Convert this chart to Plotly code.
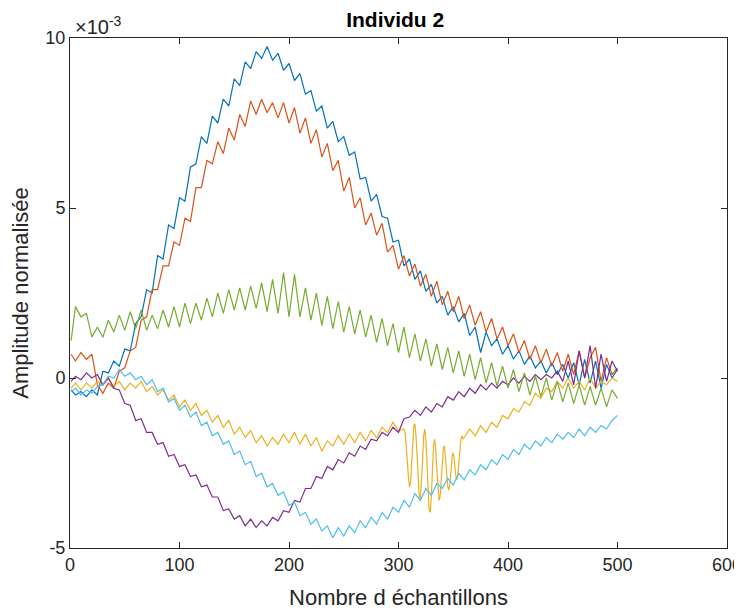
import plotly.graph_objects as go

# Sample indices (common grid, step 5)
X5 = [1, 5, 10, 15, 20, 25, 30, 35, 40, 45, 50, 55, 60, 65, 70, 75, 80, 85, 90, 95,
      100, 105, 110, 115, 120, 125, 130, 135, 140, 145, 150, 155, 160, 165, 170, 175, 180, 185, 190, 195,
      200, 205, 210, 215, 220, 225, 230, 235, 240, 245, 250, 255, 260, 265, 270, 275, 280, 285, 290, 295,
      300, 305, 310, 315, 320, 325, 330, 335, 340, 345, 350, 355, 360, 365, 370, 375, 380, 385, 390, 395,
      400, 405, 410, 415, 420, 425, 430, 435, 440, 445, 450, 455, 460, 465, 470, 475, 480, 485, 490, 495, 500]

# Values in units of 1e-3
blue = [-0.35, -0.5, -0.4, -0.55, -0.35, -0.5, 0.2, 0.15, 0.5, 0.35, 0.85, 0.8, 1.6, 1.8, 2.6, 2.5, 3.6, 3.5, 4.5, 4.4,
        5.3, 5.2, 6.2, 6.3, 7.1, 6.9, 7.7, 7.5, 8.2, 8.0, 8.8, 8.6, 9.3, 9.1, 9.6, 9.4, 9.75, 9.35, 9.55, 9.05,
        9.25, 8.75, 8.95, 8.35, 8.45, 7.85, 8.0, 7.35, 7.55, 6.95, 7.1, 6.55, 6.65, 5.85, 5.9, 5.2, 5.4, 4.75, 4.7, 4.0,
        4.05, 3.3, 3.5, 2.9, 3.15, 2.55, 2.75, 2.2, 2.4, 1.85, 2.1, 1.65, 1.9, 1.25, 1.5, 0.75, 1.35, 0.95, 1.15, 0.7,
        0.95, 0.55, 0.8, 0.4, 0.65, 0.3, 0.5, 0.15, 0.45, 0.1, 0.4, 0.0, 0.45, -0.2, 0.55, -0.15, 0.5, -0.3, 0.4, 0.0, 0.25]

orange = [0.7, 0.5, 0.75, 0.55, 0.7, -0.2, -0.45, -0.15, -0.3, 0.2, 0.3, 0.8, 0.9, 1.7, 1.8, 2.6, 2.6, 3.3, 3.3, 4.0,
          3.9, 4.7, 4.6, 5.6, 5.6, 6.4, 6.3, 6.95, 6.6, 7.35, 7.0, 7.75, 7.4, 8.15, 7.75, 8.2, 7.8, 8.1, 7.65, 8.1,
          7.5, 7.95, 7.2, 7.65, 6.9, 7.3, 6.5, 6.9, 6.1, 6.4, 5.5, 5.9, 5.0, 5.3, 4.5, 4.85, 4.2, 4.55, 3.7, 3.9,
          3.2, 3.6, 3.0, 3.35, 2.7, 3.05, 2.4, 2.85, 2.15, 2.55, 1.95, 2.4, 1.75, 2.15, 1.55, 1.95, 1.35, 1.75, 1.15, 1.5,
          0.95, 1.3, 0.75, 1.1, 0.55, 0.95, 0.45, 0.85, 0.35, 0.75, 0.2, 0.7, 0.1, 0.8, 0.0, 0.6, 0.9, -0.1, 0.6, 0.1, 0.3]

purple = [-0.1, 0.05, -0.05, 0.15, 0.0, 0.1, -0.2, 0.0, -0.3, -0.35, -0.75, -0.8, -1.25, -1.2, -1.6, -1.6, -1.95, -1.9, -2.3, -2.25,
          -2.6, -2.55, -2.9, -2.85, -3.2, -3.15, -3.5, -3.5, -3.9, -3.85, -4.15, -4.05, -4.35, -4.15, -4.4, -4.2, -4.35, -4.1, -4.2, -3.9,
          -3.95, -3.6, -3.65, -3.25, -3.25, -2.9, -2.95, -2.6, -2.7, -2.4, -2.5, -2.2, -2.3, -2.0, -2.1, -1.8, -1.85, -1.6, -1.7, -1.45,
          -1.6, -1.2, -1.15, -0.95, -1.1, -0.85, -1.0, -0.75, -0.85, -0.55, -0.65, -0.4, -0.55, -0.3, -0.45, -0.2, -0.35, -0.15, -0.3, -0.1,
          -0.2, 0.0, -0.15, 0.05, -0.1, 0.1, -0.05, 0.1, 0.0, 0.2, -0.1, 0.5, -0.2, 0.8, 0.0, 0.95, -0.3, 0.7, -0.1, 0.5, 0.2]

green = [1.1, 2.1, 1.8, 1.9, 1.2, 1.5, 1.2, 1.7, 1.35, 1.85, 1.4, 1.95, 1.45, 2.0, 1.4, 1.85, 1.45, 2.0, 1.5, 2.1,
         1.5, 2.2, 1.6, 2.2, 1.7, 2.35, 1.8, 2.5, 1.9, 2.6, 2.0, 2.65, 2.0, 2.7, 2.05, 2.8, 1.95, 2.9, 1.9, 3.1,
         1.8, 3.05, 1.8, 2.65, 1.7, 2.5, 1.55, 2.4, 1.45, 2.25, 1.35, 2.1, 1.3, 2.0, 1.2, 1.85, 1.05, 1.75, 0.95, 1.6,
         0.75, 1.5, 0.6, 1.3, 0.5, 1.15, 0.35, 1.0, 0.25, 0.9, 0.15, 0.8, 0.05, 0.7, -0.05, 0.6, -0.15, 0.45, -0.25, 0.35,
         -0.3, 0.25, -0.4, 0.15, -0.5, 0.05, -0.55, 0.0, -0.65, -0.1, -0.7, -0.15, -0.75, -0.2, -0.8, -0.25, -0.8, -0.3, -0.85, -0.35, -0.6]

lightblue = [-0.4, -0.3, -0.5, -0.35, -0.45, -0.25, -0.2, 0.05, 0.0, 0.25, 0.05, 0.15, -0.05, 0.05, -0.2, -0.05, -0.4, -0.3, -0.7, -0.6,
             -0.95, -0.8, -1.15, -1.0, -1.4, -1.3, -1.7, -1.6, -1.95, -1.85, -2.25, -2.15, -2.55, -2.45, -2.9, -2.8, -3.2, -3.1, -3.45, -3.35,
             -3.75, -3.65, -4.05, -3.95, -4.3, -4.15, -4.5, -4.35, -4.7, -4.4, -4.65, -4.35, -4.55, -4.2, -4.4, -4.1, -4.3, -3.95, -4.15, -3.8,
             -3.95, -3.6, -3.8, -3.4, -3.6, -3.25, -3.45, -3.1, -3.25, -2.95, -3.15, -2.8, -3.0, -2.7, -2.85, -2.55, -2.7, -2.4, -2.55, -2.25,
             -2.4, -2.1, -2.25, -1.95, -2.1, -1.85, -2.0, -1.75, -1.9, -1.65, -1.8, -1.6, -1.75, -1.5, -1.7, -1.45, -1.6, -1.4, -1.5, -1.25, -1.1]

# Yellow has a fast oscillation around samples 305-360, read at finer resolution
yellow_x = [1, 5, 10, 15, 20, 25, 30, 35, 40, 45, 50, 55, 60, 65, 70, 75, 80, 85, 90, 95,
            100, 105, 110, 115, 120, 125, 130, 135, 140, 145, 150, 155, 160, 165, 170, 175, 180, 185, 190, 195,
            200, 205, 210, 215, 220, 225, 230, 235, 240, 245, 250, 255, 260, 265, 270, 275, 280, 285, 290, 295,
            300, 305, 306, 307, 308, 309, 310, 311, 312, 313, 314, 315, 316, 317, 318, 319, 320, 321, 322, 323,
            324, 325, 326, 327, 328, 329, 330, 331, 332, 333, 334, 335, 336, 337, 338, 339, 340, 341, 342, 343,
            344, 345, 346, 347, 348, 349, 350, 351, 352, 353, 354, 355, 356, 357, 358, 359, 360,
            365, 370, 375, 380, 385, 390, 395, 400, 405, 410, 415, 420, 425, 430, 435, 440, 445, 450, 455, 460,
            465, 470, 475, 480, 485, 490, 495, 500]
yellow = [-0.3, -0.15, -0.35, -0.15, -0.3, -0.1, -0.2, 0.0, -0.25, -0.1, -0.35, -0.15, -0.3, -0.1, -0.4, -0.25, -0.5, -0.35, -0.65, -0.5,
          -0.85, -0.65, -0.95, -0.75, -1.1, -0.95, -1.3, -1.1, -1.45, -1.25, -1.65, -1.45, -1.75, -1.55, -1.9, -1.7, -2.0, -1.75, -1.95, -1.65,
          -1.9, -1.6, -1.95, -1.65, -2.0, -1.75, -2.15, -1.85, -2.0, -1.7, -1.95, -1.65, -1.9, -1.6, -1.85, -1.55, -1.75, -1.45, -1.6, -1.3,
          -1.55, -1.5, -1.6, -1.9, -2.4, -2.9, -3.2, -3.1, -2.6, -1.9, -1.4, -1.35, -1.7, -2.3, -3.0, -3.5, -3.55, -3.1, -2.4, -1.7,
          -1.5, -1.8, -2.5, -3.3, -3.9, -3.95, -3.5, -2.7, -2.0, -1.8, -2.1, -2.7, -3.3, -3.6, -3.5, -3.0, -2.4, -2.05, -2.0, -2.3,
          -2.8, -3.2, -3.3, -3.1, -2.7, -2.3, -2.2, -2.4, -2.8, -3.0, -2.9, -2.5, -2.0, -1.8, -1.7, -1.8, -1.75,
          -1.5, -1.7, -1.4, -1.6, -1.3, -1.45, -1.1, -1.2, -0.9, -1.0, -0.7, -0.8, -0.45, -0.6, -0.3, -0.4, -0.1, -0.3, 0.0, -0.3,
          -0.1, -0.35, 0.0, -0.3, -0.1, -0.2, 0.0, -0.1]

X_TICKS = [0, 100, 200, 300, 400, 500, 600]
Y_TICKS = [-5, 0, 5, 10]
Y_TICK_TEXT = ["-5", "0", "5", "10"]

series = [
    (X5, blue, "#0072BD"),
    (X5, orange, "#D95319"),
    (yellow_x, yellow, "#EDB120"),
    (X5, purple, "#7E2F8E"),
    (X5, green, "#77AC30"),
    (X5, lightblue, "#4DBEEE"),
]

FONT = "Liberation Sans, Arial"

fig = go.Figure()
for xs, ys, col in series:
    fig.add_trace(go.Scatter(x=xs, y=ys, mode="lines",
                             line=dict(color=col, width=1.2), showlegend=False))

axis_common = dict(showline=True, linecolor="#262626", linewidth=1, mirror="ticks",
                   ticks="inside", ticklen=6, tickcolor="#262626", showgrid=False, zeroline=False,
                   automargin=False, ticklabeloverflow="allow",
                   tickfont=dict(family=FONT, size=18, color="#262626"))

# The page body adds an 8px offset, so the figure is sized to fit the 742x613 window.
fig.update_layout(
    width=734, height=605,
    margin=dict(l=62, r=15, t=30, b=65, autoexpand=False),
    paper_bgcolor="white", plot_bgcolor="white",
    title=dict(text="<b>Individu 2</b>", xref="paper", x=0.495, xanchor="center",
               yref="container", y=0.98, yanchor="middle",
               font=dict(family=FONT, size=21, color="black")),
    xaxis=dict(range=[0, 600], tickvals=X_TICKS, **axis_common,
               title=dict(text="Nombre d échantillons", standoff=16,
                          font=dict(family=FONT, size=22, color="#262626"))),
    yaxis=dict(range=[-5, 10], tickvals=Y_TICKS, ticktext=Y_TICK_TEXT, **axis_common,
               title=dict(text="Amplitude normalisée", standoff=12,
                          font=dict(family=FONT, size=22, color="#262626"))),
    annotations=[dict(text="×10<sup>-3</sup>", xref="paper", yref="paper", x=0, y=1,
                      xanchor="left", yanchor="bottom", xshift=3, yshift=-2, showarrow=False,
                      font=dict(family=FONT, size=20, color="#262626"))],
)

fig.write_html("out.html")
